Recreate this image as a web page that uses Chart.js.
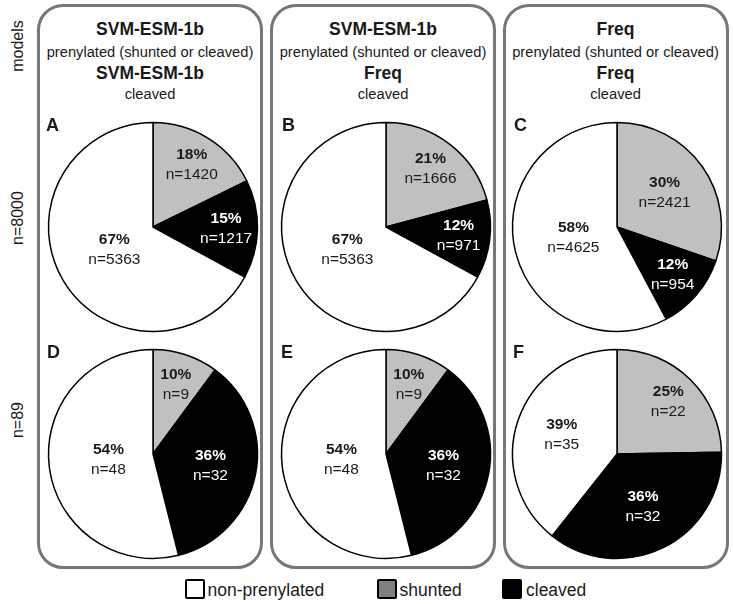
<!DOCTYPE html>
<html>
<head>
<meta charset="utf-8">
<script src="https://cdn.jsdelivr.net/npm/chart.js@4/dist/chart.umd.min.js"></script>
<style>
  html, body { margin: 0; padding: 0; background: #fff; }
  #stage { position: relative; width: 733px; height: 604px; overflow: hidden; background: #fff;
           font-family: "Liberation Sans", Arial, sans-serif; color: #1a1a1a; }
  .box { position: absolute; box-sizing: border-box; border: 3px solid #767676; border-radius: 26px; }
  .t { position: absolute; text-align: center; white-space: nowrap; line-height: 1; }
  .title { font-weight: bold; font-size: 17.5px; }
  .sub { font-size: 14.7px; }
  .letter { position: absolute; font-weight: bold; font-size: 18px; line-height: 1; }
  .rot { position: absolute; font-size: 16px; line-height: 1; white-space: nowrap;
         transform: translate(-50%, -50%) rotate(-90deg); }
  canvas { position: absolute; }
  .sw { position: absolute; box-sizing: border-box; width: 20px; height: 20px; border: 2.5px solid #000; border-radius: 2px; }
  .lg { position: absolute; font-size: 17.5px; line-height: 1; white-space: nowrap; }
</style>
</head>
<body>
<div id="stage"></div>
<script>
// ---- data ----
const categories = ['shunted', 'cleaved', 'non-prenylated'];
const panelLetters = ['A', 'B', 'C', 'D', 'E', 'F'];
const shunted = [1420, 1666, 2421, 9, 9, 22];
const cleaved = [1217, 971, 954, 32, 32, 32];
const nonPrenylated = [5363, 5363, 4625, 48, 48, 35];
const prenylatedModel = ['SVM-ESM-1b', 'SVM-ESM-1b', 'Freq'];
const cleavedModel = ['SVM-ESM-1b', 'Freq', 'Freq'];
const rowLabels = ['n=8000', 'n=89'];
const legendLabels = ['non-prenylated', 'shunted', 'cleaved'];

// ---- styles / layout ----
const sliceColors = ['#c0c0c0', '#000000', '#ffffff'];
const legendColors = ['#ffffff', '#808080', '#000000'];
const boxLeft = [37, 270, 502.5];
const boxWidth = 226;
const pieCx = [153, 385.5, 617];
const pieCy = [226.5, 453.5];
const R = 104.5;
const letterX = [[46, 282, 514], [47, 281, 513]];
const letterTop = [116, 343];

const stage = document.getElementById('stage');
function el(tag, cls, css, text) {
  const e = document.createElement(tag);
  if (cls) e.className = cls;
  Object.assign(e.style, css || {});
  if (text !== undefined) e.textContent = text;
  stage.appendChild(e);
  return e;
}

// boxes and headers
for (let c = 0; c < 3; c++) {
  el('div', 'box', { left: boxLeft[c] + 'px', top: '4px', width: boxWidth + 'px', height: '565px' });
  const common = { left: boxLeft[c] + 'px', width: boxWidth + 'px' };
  el('div', 't title', Object.assign({ top: '21px' }, common), prenylatedModel[c]);
  el('div', 't sub', Object.assign({ top: '44.5px' }, common), 'prenylated (shunted or cleaved)');
  el('div', 't title', Object.assign({ top: '65px' }, common), cleavedModel[c]);
  el('div', 't sub', Object.assign({ top: '87px' }, common), 'cleaved');
}

// row labels
el('div', 'rot', { left: '18px', top: '46px' }, 'models');
el('div', 'rot', { left: '18px', top: '218px' }, rowLabels[0]);
el('div', 'rot', { left: '18px', top: '420px' }, rowLabels[1]);

// legend
const swX = [185, 376.5, 502];
const txX = [207.5, 399.5, 526];
for (let i = 0; i < 3; i++) {
  el('div', 'sw', { left: swX[i] + 'px', top: '579px', background: legendColors[i] });
  el('div', 'lg', { left: txX[i] + 'px', top: '581.5px' }, legendLabels[i]);
}

// slice label plugin
const sliceLabels = {
  id: 'sliceLabels',
  afterDatasetsDraw(chart) {
    const ctx = chart.ctx;
    const ds = chart.data.datasets[0];
    const total = ds.data.reduce((a, b) => a + b, 0);
    const meta = chart.getDatasetMeta(0);
    meta.data.forEach((arc, i) => {
      const v = ds.data[i];
      const share = v / total;
      const frac = share > 0.5 ? 0.43 : (share > 0.3 ? 0.56 : 0.7);
      const mid = (arc.startAngle + arc.endAngle) / 2;
      const r = arc.outerRadius * frac;
      const x = arc.x + Math.cos(mid) * r;
      const y = arc.y + Math.sin(mid) * r;
      ctx.save();
      ctx.fillStyle = ds.backgroundColor[i] === '#000000' ? '#ffffff' : '#1a1a1a';
      ctx.textAlign = 'center';
      ctx.textBaseline = 'middle';
      ctx.font = 'bold 15.5px "Liberation Sans", Arial, sans-serif';
      ctx.fillText(Math.round(share * 100) + '%', x, y - 10);
      ctx.font = '15.5px "Liberation Sans", Arial, sans-serif';
      ctx.fillText('n=' + v, x, y + 10);
      ctx.restore();
    });
  }
};

// pies
const S = 232;
for (let p = 0; p < 6; p++) {
  const row = Math.floor(p / 3), col = p % 3;
  const cv = el('canvas', null, { left: (pieCx[col] - S / 2) + 'px', top: (pieCy[row] - S / 2) + 'px' });
  cv.width = S; cv.height = S;
  el('div', 'letter', { left: letterX[row][col] + 'px', top: letterTop[row] + 'px' }, panelLetters[p]);
  new Chart(cv, {
    type: 'pie',
    data: {
      labels: categories,
      datasets: [{
        data: [shunted[p], cleaved[p], nonPrenylated[p]],
        backgroundColor: sliceColors,
        borderColor: '#000000',
        borderWidth: 1.5
      }]
    },
    options: {
      responsive: false,
      animation: false,
      radius: R,
      layout: { padding: 0 },
      events: [],
      plugins: { legend: { display: false }, tooltip: { enabled: false } }
    },
    plugins: [sliceLabels]
  });
}
</script>
</body>
</html>
